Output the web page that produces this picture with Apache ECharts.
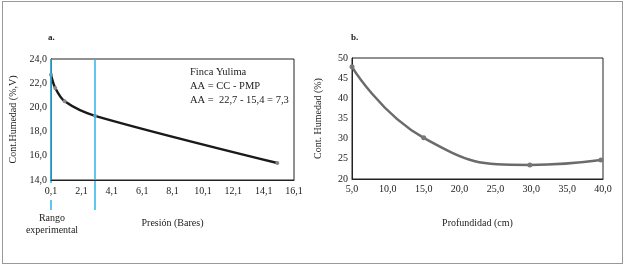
<!DOCTYPE html>
<html>
<head>
<meta charset="utf-8">
<script src="https://cdn.jsdelivr.net/npm/echarts@6/dist/echarts.min.js"></script>
<style>
  html, body { margin: 0; padding: 0; background: #fff; }
  #chart { width: 624px; height: 267px; }
</style>
</head>
<body>
<div id="chart"></div>
<script>
// a. curva de retención (presión vs humedad)
let presion = [0.1, 0.38, 1.0, 3.0, 15.0];
let humedadA = [22.7, 21.6, 20.5, 19.3, 15.4];
let rangoExp = [0.1, 3.0];

// b. perfil de humedad
let profundidad = [5.0, 15.0, 29.8, 39.7];
let humedadB = [47.8, 30.2, 23.5, 24.7];

let serif = 'Liberation Serif';
let coma = function (d) { return function (v) { return v.toFixed(d).replace('.', ','); }; };

function initChart() {
	let myChart = echarts.init(document.getElementById('chart'));

	let axisLine = { show: true, lineStyle: { color: '#222', width: 1 } };
	let lbl = { fontFamily: serif, fontSize: 10, color: '#222' };

	let option = {
		animation: false,
		backgroundColor: '#fff',
		grid: [
			{ left: 51, width: 243, top: 59, height: 121, show: true, borderColor: '#222', borderWidth: 1 },
			{ left: 352, width: 251, top: 58, height: 121, show: true, borderColor: '#222', borderWidth: 1 },
			// rejilla auxiliar para las líneas de rango, llega debajo del eje
			{ left: 51, width: 243, top: 59, bottom: 57 }
		],
		xAxis: [
			{
				gridIndex: 0, type: 'value', min: 0.1, max: 16.1, interval: 2, z: 5,
				name: 'Presión (Bares)', nameLocation: 'middle', nameGap: 38,
				nameTextStyle: { fontFamily: serif, fontSize: 10, color: '#222' },
				axisLine: axisLine, axisTick: { show: false }, splitLine: { show: false },
				axisLabel: Object.assign({ formatter: coma(1), margin: 3, backgroundColor: '#fff', padding: [3, 1, 4, 1] }, lbl)
			},
			{
				gridIndex: 1, type: 'value', min: 5, max: 40, interval: 5,
				name: 'Profundidad (cm)', nameLocation: 'middle', nameGap: 39,
				nameTextStyle: { fontFamily: serif, fontSize: 10, color: '#222' },
				axisLine: axisLine, axisTick: { show: false }, splitLine: { show: false },
				axisLabel: Object.assign({ formatter: coma(1), margin: 5 }, lbl)
			},
			{ gridIndex: 2, type: 'value', min: 0.1, max: 16.1, show: false }
		],
		yAxis: [
			{
				gridIndex: 0, type: 'value', min: 14, max: 24, interval: 2,
				name: 'Cont.Humedad (%,V)', nameLocation: 'middle', nameGap: 33,
				nameTextStyle: { fontFamily: serif, fontSize: 10, color: '#222' },
				axisLine: axisLine, axisTick: { show: false }, splitLine: { show: false },
				axisLabel: Object.assign({ formatter: coma(1), margin: 4 }, lbl)
			},
			{
				gridIndex: 1, type: 'value', min: 20, max: 50, interval: 5,
				name: 'Cont. Humedad (%)', nameLocation: 'middle', nameGap: 29,
				nameTextStyle: { fontFamily: serif, fontSize: 10, color: '#222' },
				axisLine: axisLine, axisTick: { show: false }, splitLine: { show: false },
				axisLabel: Object.assign({ margin: 4 }, lbl)
			},
			{ gridIndex: 2, type: 'value', min: 0, max: 1, show: false }
		],
		graphic: [
			{ type: 'text', left: 48, top: 33, style: { text: 'a.', font: 'bold 9px ' + serif, fill: '#222' } },
			{ type: 'text', left: 351, top: 33, style: { text: 'b.', font: 'bold 9px ' + serif, fill: '#222' } },
			{ type: 'text', left: 190, top: 65, style: { text: 'Finca Yulima\nAA = CC - PMP\nAA =  22,7 - 15,4 = 7,3', font: '10.5px ' + serif, fill: '#222', lineHeight: 14 } },
			{ type: 'text', x: 52, y: 212, style: { text: 'Rango\nexperimental', font: '10px ' + serif, fill: '#222', align: 'center', lineHeight: 12 } }
		],
		series: [
			{
				name: 'a', type: 'line', xAxisIndex: 0, yAxisIndex: 0, smooth: 0.3,
				data: presion.map(function (p, i) { return [p, humedadA[i]]; }),
				symbol: 'circle', symbolSize: 4,
				itemStyle: { color: '#888' },
				lineStyle: { color: '#1a1a1a', width: 2.5 },
				z: 3
			},
			{
				name: 'rango', type: 'line', xAxisIndex: 2, yAxisIndex: 2, data: [],
				z: 2, silent: true,
				markLine: {
					symbol: 'none', silent: true, label: { show: false },
					lineStyle: { color: '#29b6ea', type: 'solid', width: 1.5 },
					data: rangoExp.map(function (x) { return { xAxis: x }; })
				}
			},
			{
				name: 'b', type: 'line', xAxisIndex: 1, yAxisIndex: 1, smooth: 0.5,
				data: profundidad.map(function (p, i) { return [p, humedadB[i]]; }),
				symbol: 'circle', symbolSize: 5,
				itemStyle: { color: '#777' },
				lineStyle: { color: '#6b6b6b', width: 2.5 }
			}
		]
	};

	myChart.setOption(option);
	return myChart;
}

initChart();

// marco exterior de la figura
let frame = document.createElement('div');
frame.style.cssText = 'position:absolute;left:2px;top:1px;width:619px;height:261px;border:1px solid #999;pointer-events:none;';
document.body.appendChild(frame);
</script>
</body>
</html>
